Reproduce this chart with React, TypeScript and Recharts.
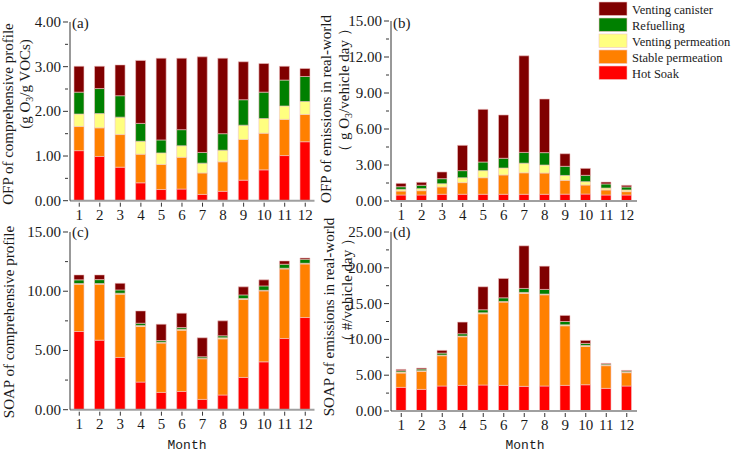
import React from 'react';
import { BarChart, Bar, XAxis, YAxis } from 'recharts';

const months = [1, 2, 3, 4, 5, 6, 7, 8, 9, 10, 11, 12];
const seriesNames = ['Venting canister', 'Refuelling', 'Venting permeation', 'Stable permeation', 'Hot Soak'];
const seriesColors = ['#800000', '#008000', '#FFFF80', '#FF8000', '#FF0000'];

// (a) OFP of comprehensive profile
const aHotSoak = [1.12, 0.99, 0.75, 0.40, 0.25, 0.26, 0.14, 0.21, 0.46, 0.69, 1.01, 1.32];
const aStable = [0.54, 0.64, 0.73, 0.64, 0.56, 0.71, 0.48, 0.66, 0.91, 0.82, 0.81, 0.61];
const aVentPerm = [0.28, 0.32, 0.39, 0.29, 0.26, 0.26, 0.22, 0.26, 0.32, 0.33, 0.30, 0.29];
const aRefuel = [0.49, 0.56, 0.48, 0.40, 0.29, 0.36, 0.24, 0.37, 0.57, 0.59, 0.58, 0.56];
const aCanister = [0.58, 0.50, 0.69, 1.41, 1.83, 1.60, 2.14, 1.69, 0.85, 0.64, 0.31, 0.18];

// (b) OFP of emissions in real-world
const bHotSoak = [0.50, 0.50, 0.56, 0.56, 0.56, 0.56, 0.56, 0.56, 0.57, 0.58, 0.50, 0.50];
const bStable = [0.33, 0.36, 0.61, 0.97, 1.38, 1.61, 1.79, 1.77, 1.15, 0.75, 0.42, 0.28];
const bVentPerm = [0.14, 0.17, 0.27, 0.41, 0.59, 0.58, 0.80, 0.67, 0.41, 0.28, 0.16, 0.14];
const bRefuel = [0.22, 0.28, 0.42, 0.59, 0.72, 0.81, 0.90, 1.03, 0.76, 0.53, 0.34, 0.25];
const bCanister = [0.28, 0.25, 0.56, 2.11, 4.39, 3.61, 8.05, 4.47, 1.05, 0.58, 0.16, 0.14];

// (c) SOAP of comprehensive profile
const cHotSoak = [6.60, 5.87, 4.41, 2.33, 1.46, 1.54, 0.87, 1.24, 2.72, 4.04, 6.01, 7.78];
const cStable = [3.99, 4.72, 5.34, 4.69, 4.16, 5.17, 3.43, 4.74, 6.58, 5.99, 5.87, 4.52];
const cVentPerm = [0.06, 0.06, 0.08, 0.09, 0.08, 0.09, 0.05, 0.09, 0.08, 0.05, 0.06, 0.06];
const cRefuel = [0.31, 0.33, 0.28, 0.19, 0.14, 0.14, 0.12, 0.17, 0.31, 0.37, 0.34, 0.34];
const cCanister = [0.42, 0.40, 0.56, 1.04, 1.38, 1.21, 1.60, 1.26, 0.68, 0.51, 0.28, 0.11];

// (d) SOAP of emissions in real-world
const dHotSoak = [3.30, 3.02, 3.49, 3.58, 3.63, 3.58, 3.44, 3.49, 3.58, 3.67, 3.16, 3.49];
const dStable = [2.00, 2.51, 4.23, 6.79, 9.95, 11.63, 12.98, 12.74, 8.32, 5.35, 3.17, 1.86];
const dVentPerm = [0.14, 0.10, 0.09, 0.10, 0.14, 0.09, 0.14, 0.10, 0.14, 0.14, 0.09, 0.09];
const dRefuel = [0.19, 0.23, 0.28, 0.32, 0.42, 0.51, 0.56, 0.65, 0.46, 0.28, 0.14, 0.14];
const dCanister = [0.18, 0.14, 0.38, 1.63, 3.21, 2.70, 5.95, 3.25, 0.85, 0.42, 0.09, 0.09];

const aTicks = [0, 0.5, 1, 1.5, 2, 2.5, 3, 3.5, 4];
const bTicks = [0, 1.5, 3, 4.5, 6, 7.5, 9, 10.5, 12, 13.5, 15];
const cTicks = [0, 2.5, 5, 7.5, 10, 12.5, 15];
const dTicks = [0, 2.5, 5, 7.5, 10, 12.5, 15, 17.5, 20, 22.5, 25];

const build = (hs: number[], sp: number[], vp: number[], rf: number[], vc: number[]) =>
  months.map((m, i) => ({ month: m, hs: hs[i], sp: sp[i], vp: vp[i], rf: rf[i], vc: vc[i] }));

const SERIF = '"Liberation Serif", "Times New Roman", serif';
const TEXT = '#1a1a1a';

const YTick = (props: any) => {
  const { x, y, payload, major } = props;
  const v = payload.value;
  const isMajor = Math.abs(v / major - Math.round(v / major)) < 1e-6;
  const len = isMajor ? 5 : 3;
  return (
    <g>
      <line x1={x - len} x2={x} y1={y} y2={y} stroke="#333" strokeWidth={1} />
      {isMajor && (
        <text x={x - 7} y={y} dy={5} textAnchor="end" fontFamily={SERIF} fontSize={15} fill={TEXT}>
          {v.toFixed(2)}
        </text>
      )}
    </g>
  );
};

const XTick = (props: any) => {
  const { x, y, payload } = props;
  return (
    <g>
      <line x1={x} x2={x} y1={y} y2={y + 4} stroke="#333" strokeWidth={1} />
      <text x={x} y={y + 17} textAnchor="middle" fontFamily={SERIF} fontSize={15} fill={TEXT}>
        {payload.value}
      </text>
    </g>
  );
};

type PanelProps = {
  data: any[];
  px0: number; px1: number; py0: number; py1: number;
  yMax: number; yTicks: number[]; major: number; xDomain: [number, number];
};

const ML = 70, MT = 15, MR = 15, MB = 30;

const Panel = ({ data, px0, px1, py0, py1, yMax, yTicks, major, xDomain }: PanelProps) => {
  const w = px1 - px0 + ML + MR;
  const h = py1 - py0 + MT + MB;
  const keys = ['hs', 'sp', 'vp', 'rf', 'vc'];
  const cols = ['#FF0000', '#FF8000', '#FFFF80', '#008000', '#800000'];
  return (
    <div style={{ position: 'absolute', left: px0 - ML, top: py0 - MT, width: w, height: h }}>
      <BarChart width={w} height={h} data={data} margin={{ top: MT, right: MR, bottom: 0, left: 0 }} barSize={10}>
        <XAxis
          dataKey="month"
          type="number"
          domain={xDomain}
          ticks={months}
          interval={0}
          height={MB}
          axisLine={{ stroke: '#a0a0a0', strokeWidth: 2 }}
          tickLine={false}
          tickSize={0}
          tick={<XTick />}
          allowDataOverflow
        />
        <YAxis
          type="number"
          domain={[0, yMax]}
          ticks={yTicks}
          interval={0}
          width={ML}
          axisLine={{ stroke: '#333', strokeWidth: 1 }}
          tickLine={false}
          tickSize={0}
          tick={<YTick major={major} />}
          allowDataOverflow
        />
        {keys.map((k, i) => (
          <Bar
            key={k}
            dataKey={k}
            stackId="s"
            fill={cols[i]}
            stroke="#f0c4c4"
            strokeWidth={0.6}
            isAnimationActive={false}
          />
        ))}
      </BarChart>
    </div>
  );
};

const RotText = ({ x, y, children, size = 15 }: any) => (
  <text
    transform={`translate(${x},${y}) rotate(-90)`}
    textAnchor="middle"
    fontFamily={SERIF}
    fontSize={size}
    fill={TEXT}
  >
    {children}
  </text>
);

export default function App() {
  const dataA = build(aHotSoak, aStable, aVentPerm, aRefuel, aCanister);
  const dataB = build(bHotSoak, bStable, bVentPerm, bRefuel, bCanister);
  const dataC = build(cHotSoak, cStable, cVentPerm, cRefuel, cCanister);
  const dataD = build(dHotSoak, dStable, dVentPerm, dRefuel, dCanister);
  return (
    <div style={{ position: 'absolute', left: 0, top: 0, width: 735, height: 455, background: '#fff', overflow: 'hidden' }}>
      <Panel data={dataA} px0={69.5} px1={314} py0={22.3} py1={201} yMax={4} yTicks={aTicks} major={1} xDomain={[0.55, 12.45]} />
      <Panel data={dataB} px0={391} px1={637} py0={21} py1={201} yMax={15} yTicks={bTicks} major={3} xDomain={[0.5, 12.5]} />
      <Panel data={dataC} px0={69.5} px1={314} py0={232.3} py1={410} yMax={15} yTicks={cTicks} major={5} xDomain={[0.55, 12.45]} />
      <Panel data={dataD} px0={391} px1={637} py0={231.7} py1={410.7} yMax={25} yTicks={dTicks} major={5} xDomain={[0.5, 12.5]} />
      <svg width={735} height={455} style={{ position: 'absolute', left: 0, top: 0, pointerEvents: 'none' }}>
        <text x={72} y={28} fontFamily={SERIF} fontSize={15} fill={TEXT}>(a)</text>
        <text x={393} y={28} fontFamily={SERIF} fontSize={15} fill={TEXT}>(b)</text>
        <text x={72} y={237} fontFamily={SERIF} fontSize={15} fill={TEXT}>(c)</text>
        <text x={393} y={237} fontFamily={SERIF} fontSize={15} fill={TEXT}>(d)</text>

        <RotText x={13} y={114}>OFP of comprehensive profile</RotText>
        <RotText x={30} y={84}>
          (g O<tspan fontSize={10} dy={3}>3</tspan><tspan dy={-3}>/g VOCs)</tspan>
        </RotText>
        <RotText x={331} y={109}>OFP of emissions in real-world</RotText>
        <RotText x={349} y={90}>
          （ g O<tspan fontSize={10} dy={3}>3</tspan><tspan dy={-3}>/vehicle day ）</tspan>
        </RotText>
        <RotText x={14} y={322}>SOAP of comprehensive profile</RotText>
        <RotText x={334} y={317}>SOAP of emissions in real-world</RotText>
        <RotText x={352} y={290}>（ #/vehicle day ）</RotText>

        <text x={187} y={449} textAnchor="middle" fontFamily='"Liberation Mono", monospace' fontSize={13} fill={TEXT}>Month</text>
        <text x={525} y={449} textAnchor="middle" fontFamily='"Liberation Mono", monospace' fontSize={13} fill={TEXT}>Month</text>

        {seriesNames.map((n, i) => (
          <g key={n}>
            <rect x={599} y={2 + i * 16} width={28} height={13.5} fill={seriesColors[i]} stroke="#f0c4c4" strokeWidth={0.6} />
            <text x={632} y={13.5 + i * 16} fontFamily={SERIF} fontSize={12.5} fill={TEXT}>{n}</text>
          </g>
        ))}
      </svg>
    </div>
  );
}
